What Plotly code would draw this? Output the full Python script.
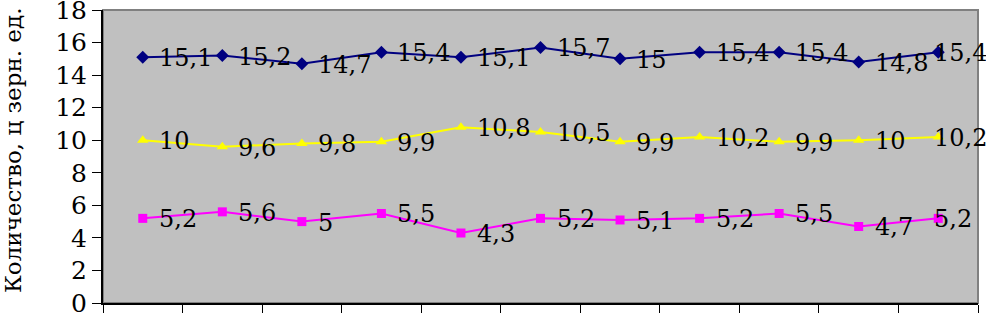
import plotly.graph_objects as go

categories = list(range(1, 12))
series_blue = [15.1, 15.2, 14.7, 15.4, 15.1, 15.7, 15.0, 15.4, 15.4, 14.8, 15.4]
series_yellow = [10.0, 9.6, 9.8, 9.9, 10.8, 10.5, 9.9, 10.2, 9.9, 10.0, 10.2]
series_magenta = [5.2, 5.6, 5.0, 5.5, 4.3, 5.2, 5.1, 5.2, 5.5, 4.7, 5.2]
y_ticks = [0, 2, 4, 6, 8, 10, 12, 14, 16, 18]
y_title = "Количество, ц зерн. ед."

FONT = "DejaVu Serif"
FS_TICK = 25
FS_LABEL = 24
FS_TITLE = 23

W, H = 986, 313
ML, MR, MT, MB = 103, 8, 10, 10
PW = W - ML - MR
PH = H - MT - MB


def fmt(v):
    return ("%g" % v).replace(".", ",")


fig = go.Figure()
specs = [
    (series_blue, "#000080", "diamond", 10),
    (series_yellow, "#ffff00", "triangle-up", 10),
    (series_magenta, "#ff00ff", "square", 9),
]
for vals, col, sym, ms in specs:
    fig.add_trace(go.Scatter(
        x=categories, y=vals, mode="lines+markers",
        line=dict(color=col, width=2),
        marker=dict(color=col, symbol=sym, size=ms),
        showlegend=False, hoverinfo="skip", cliponaxis=False,
    ))

annotations = []
for vals, col, sym, ms in specs:
    for i, (x, v) in enumerate(zip(categories, vals)):
        last = i == len(categories) - 1
        annotations.append(dict(
            x=x, y=v, xref="x", yref="y", text=fmt(v), showarrow=False,
            xanchor="left", yanchor="middle", xshift=(-6 if last else 14), yshift=-1,
            font=dict(family=FONT, size=FS_LABEL, color="black"),
        ))

annotations.append(dict(
    x=-(ML - 13) / PW, y=(H - MB - 151) / PH, xref="paper", yref="paper",
    text=y_title, textangle=-90, showarrow=False,
    xanchor="center", yanchor="middle",
    font=dict(family=FONT, size=FS_TITLE, color="black"),
))

fig.update_layout(
    width=W, height=H,
    margin=dict(l=ML, r=MR, t=MT, b=MB),
    paper_bgcolor="white", plot_bgcolor="#c0c0c0",
    font=dict(family=FONT, size=FS_TICK, color="black"),
    annotations=annotations,
    shapes=[dict(type="rect", xref="paper", yref="paper", x0=0, x1=1, y0=0, y1=1,
                 line=dict(color="#808080", width=2), layer="below")],
    xaxis=dict(
        range=[0.5, 11.5], tickmode="array",
        tickvals=[c - 0.5 for c in categories] + [categories[-1] + 0.5],
        ticktext=[""] * (len(categories) + 1),
        ticks="outside", ticklen=10, tickcolor="black", tickwidth=1,
        showline=True, linecolor="black", linewidth=2,
        showgrid=False, zeroline=False, automargin=False,
    ),
    yaxis=dict(
        range=[0, 18], tickmode="array", tickvals=y_ticks,
        ticktext=[str(t) for t in y_ticks],
        ticks="outside", ticklen=9, tickcolor="black", tickwidth=1,
        showline=True, linecolor="black", linewidth=2,
        showgrid=False, zeroline=False, automargin=False,
        ticklabeloverflow="allow",
        tickfont=dict(family=FONT, size=FS_TICK, color="black"),
    ),
)

fig.write_html(
    "out.html",
    config={"displayModeBar": False},
    post_script="document.body.style.margin='0';document.body.style.padding='0';",
)
